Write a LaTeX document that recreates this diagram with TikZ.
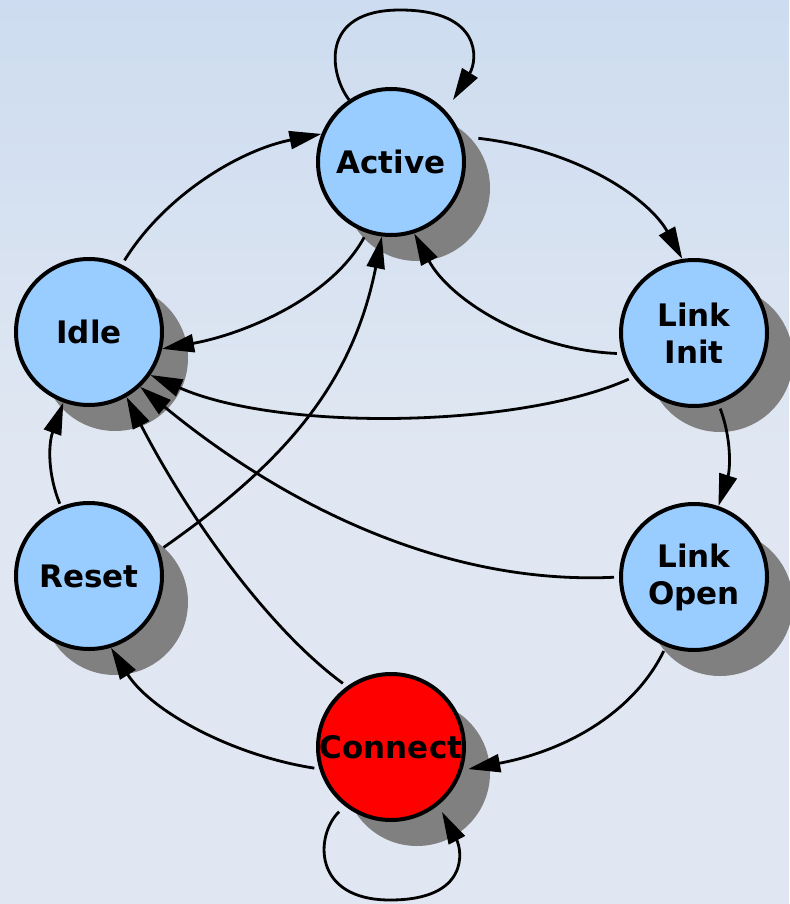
\documentclass[tikz,border=0pt]{standalone}
\usepackage{fontspec}
\setmainfont{DejaVu Sans}
\usetikzlibrary{arrows.meta,shadows}

\definecolor{bgtop}{RGB}{186,209,238}
\definecolor{bgbot}{RGB}{224,231,242}
\definecolor{nodeblue}{HTML}{99CCFF}
\definecolor{shadowgray}{HTML}{808080}

\pgfdeclareverticalshading{bgshade}{100bp}{color(0bp)=(bgbot); color(50bp)=(bgbot); color(100bp)=(bgtop)}

\tikzset{
  fsmnode/.style={circle, draw=black, line width=4pt, fill=nodeblue,
    minimum size=146pt, inner sep=0pt, align=center,
    font=\bfseries\fontsize{31}{37}\selectfont,
    drop shadow={shadow xshift=26pt, shadow yshift=-26pt, fill=shadowgray, opacity=1}},
  edge/.style={draw=black, line width=2.8pt, shorten <=5pt,
    -{Triangle[length=32pt,width=18pt]}}
}

\begin{document}
\begin{tikzpicture}[x=1pt,y=-1pt]
\useasboundingbox (0,0) rectangle (789,904);
\shade[shading=bgshade] (0,0) rectangle (789,904);

% states
\node[fsmnode] (active) at (391,162) {Active};
\node[fsmnode] (idle) at (89,332) {Idle};
\node[fsmnode] (linkinit) at (694,333) {Link\\Init};
\node[fsmnode] (reset) at (89,576) {Reset};
\node[fsmnode] (linkopen) at (694,577) {Link\\Open};
\node[fsmnode, fill=red] (connect) at (391,747) {Connect};

% loose ends of the two self-loops
\coordinate (aloop) at ([shift={(62,-62)}]active.center);
\coordinate (cloop) at ([shift={(51,65)}]connect.center);

% self-loops
\draw[edge, shorten <=0pt] (active.124) .. controls (330,75) and (318,10) .. (400,10)
  .. controls (482,10) and (478,60) .. (aloop);
\draw[edge, shorten <=8pt] (connect.232) .. controls (315,835) and (312,900) .. (390,900)
  .. controls (470,900) and (462,850) .. (cloop);

% transitions
\draw[edge] (idle.64) .. controls (165,195) and (240,150) .. (active.158);
\draw[edge] (active.251) .. controls (330,300) and (240,335) .. (idle.347);
\draw[edge, shorten <=17pt] (active.20) .. controls (580,150) and (650,200) .. (linkinit.99);
\draw[edge] (linkinit.196) .. controls (530,350) and (450,300) .. (active.288);
\draw[edge] (linkinit.216) .. controls (520,428) and (280,432) .. (idle.325);
\draw[edge] (linkinit.289) .. controls (732,440) and (730,470) .. (linkopen.71);
\draw[edge] (linkopen.180) .. controls (450,585) and (290,510) .. (idle.313);
\draw[edge, shorten >=6pt] (linkopen.248) .. controls (635,710) and (570,750) .. (connect.342);
\draw[edge] (connect.197) .. controls (230,755) and (150,710) .. (reset.287);
\draw[edge] (connect.126) .. controls (270,630) and (190,520) .. (idle.300);
\draw[edge, shorten <=3pt] (reset.112) .. controls (48,475) and (48,445) .. (idle.250);
\draw[edge] (reset.20) .. controls (281,465) and (352,387) .. (active.263);
\end{tikzpicture}
\end{document}
